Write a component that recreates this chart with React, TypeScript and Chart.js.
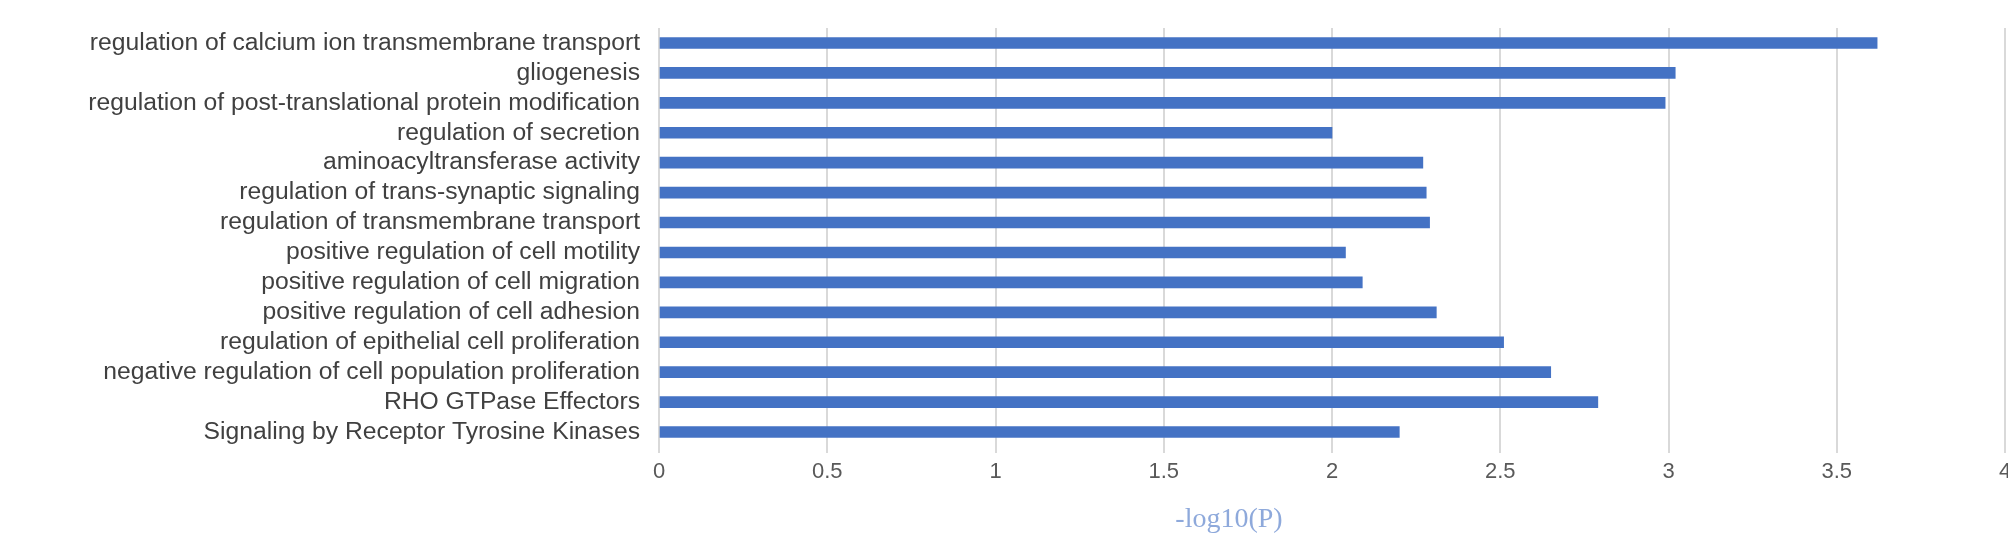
import React, { useEffect, useRef } from "react";
import { Chart, registerables } from "chart.js";

Chart.register(...registerables);

const categories = [
  "regulation of calcium ion transmembrane transport",
  "gliogenesis",
  "regulation of post-translational protein modification",
  "regulation of secretion",
  "aminoacyltransferase activity",
  "regulation of trans-synaptic signaling",
  "regulation of transmembrane transport",
  "positive regulation of cell motility",
  "positive regulation of cell migration",
  "positive regulation of cell adhesion",
  "regulation of epithelial cell proliferation",
  "negative regulation of cell population proliferation",
  "RHO GTPase Effectors",
  "Signaling by Receptor Tyrosine Kinases",
];

const values = [3.62, 3.02, 2.99, 2.0, 2.27, 2.28, 2.29, 2.04, 2.09, 2.31, 2.51, 2.65, 2.79, 2.2];

const xMin = 0;
const xMax = 4;
const xStep = 0.5;
const xTickLabels = ["0", "0.5", "1", "1.5", "2", "2.5", "3", "3.5", "4"];
const xTitle = "-log10(P)";

const titlePlugin = {
  id: "axisTitleText",
  afterDraw(chart: any) {
    const ctx = chart.ctx;
    ctx.save();
    ctx.font = '28px "Liberation Serif"';
    ctx.fillStyle = "#8EA9DB";
    ctx.textAlign = "center";
    ctx.textBaseline = "alphabetic";
    ctx.fillText(xTitle, 1229, 527);
    ctx.restore();
  },
};

export default function App() {
  const ref = useRef<HTMLCanvasElement | null>(null);

  useEffect(() => {
    if (!ref.current) return;
    const chart = new Chart(ref.current, {
      type: "bar",
      data: {
        labels: categories,
        datasets: [
          {
            data: values,
            backgroundColor: "#4472C4",
            borderWidth: 0,
            barThickness: 11,
          },
        ],
      },
      plugins: [titlePlugin],
      options: {
        indexAxis: "y",
        animation: false,
        responsive: false,
        maintainAspectRatio: false,
        layout: { padding: { top: 28, right: 3, left: 0, bottom: 0 } },
        plugins: {
          legend: { display: false },
          tooltip: { enabled: false },
        },
        scales: {
          x: {
            type: "linear",
            min: xMin,
            max: xMax,
            ticks: {
              stepSize: xStep,
              color: "#595959",
              padding: 6,
              font: { family: '"Liberation Sans", Arial, sans-serif', size: 22 },
              maxRotation: 0,
              callback: (_v: any, i: number) => xTickLabels[i],
            },
            grid: {
              color: "#D9D9D9",
              lineWidth: 2,
              drawTicks: true,
              tickLength: 6,
              tickColor: "#D9D9D9",
            },
            border: { display: false },
            afterFit(scale: any) {
              scale.height = 111;
              scale.paddingLeft = 0;
              scale.paddingRight = 0;
            },
          },
          y: {
            ticks: {
              color: "#404040",
              padding: 19,
              font: { family: '"Liberation Sans", Arial, sans-serif', size: 24.7 },
              autoSkip: false,
            },
            grid: { display: false, drawTicks: false },
            border: { display: false },
            afterFit(scale: any) {
              scale.width = 659;
              scale.paddingTop = 0;
              scale.paddingBottom = 0;
            },
          },
        },
      },
    });
    return () => chart.destroy();
  }, []);

  return (
    <div style={{ position: "fixed", left: 0, top: 0, width: 2008, height: 558, background: "#fff", overflow: "hidden" }}>
      <canvas ref={ref} width={2008} height={558} style={{ width: 2008, height: 558, display: "block" }} />
    </div>
  );
}
